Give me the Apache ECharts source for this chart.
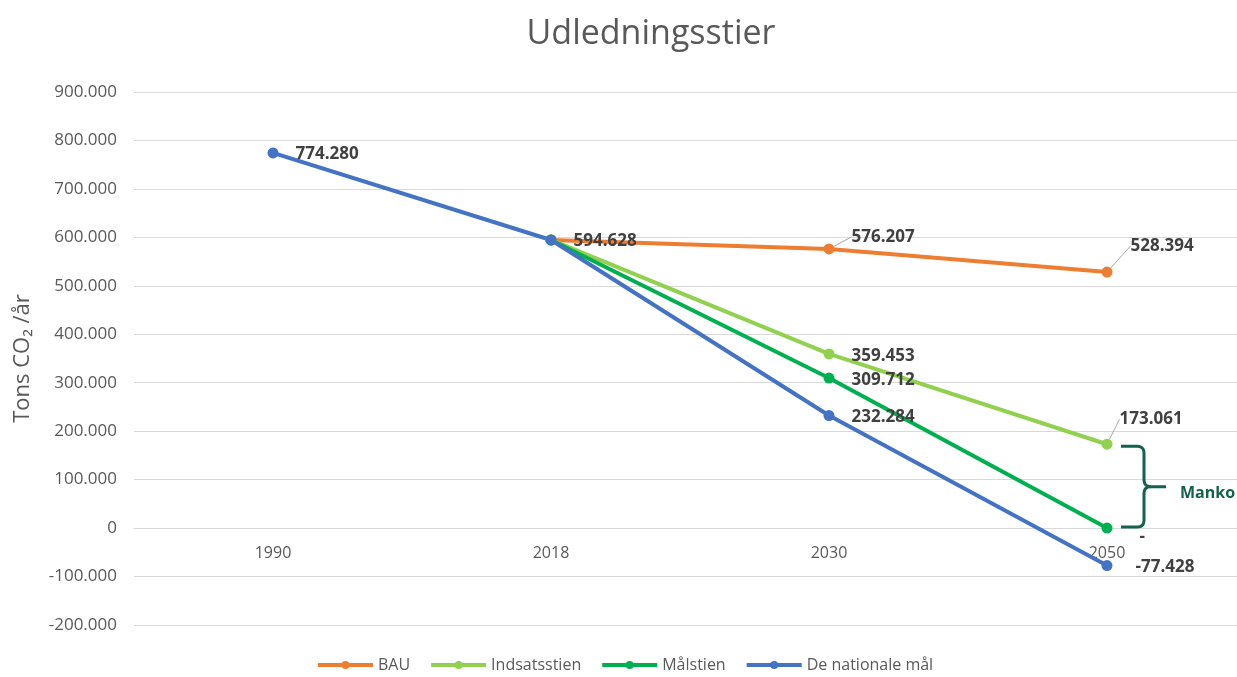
<!DOCTYPE html>
<html>
<head>
<meta charset="utf-8">
<script src="https://cdn.jsdelivr.net/npm/echarts@6/dist/echarts.min.js"></script>
<style>
  html, body { margin: 0; padding: 0; background: #fff; }
  #chart { width: 1237px; height: 677px; }
</style>
</head>
<body>
<div id="chart"></div>
<script>
const years = ["1990", "2018", "2030", "2050"];
const bau = [null, 594628, 576207, 528394];
const indsats = [null, 594628, 359453, 173061];
const maal = [null, 594628, 309712, 0];
const national = [774280, 594628, 232284, -77428];

const font = "Open Sans";
const labelColor = "#404040";
const mankoColor = "#15614F";

function fmt(v) {
  if (v === 0) return "0";
  const s = Math.abs(v).toString().replace(/\B(?=(\d{3})+(?!\d))/g, ".");
  return (v < 0 ? "-" : "") + s;
}

function dataLabel(v) {
  if (v === 0) return "-";
  return fmt(v);
}

const chart = echarts.init(window.document.getElementById("chart"));

function lineSeries(name, data, color, labelPos) {
  return {
    name: name,
    type: "line",
    data: data.map((v, i) => {
      const lp = labelPos[i];
      return {
        value: v,
        label: lp ? Object.assign({ show: true, position: "right" }, lp) : { show: false },
        labelLine: { show: !!(lp && lp.line) },
      };
    }),
    symbol: "circle",
    symbolSize: 11,
    lineStyle: { color: color, width: 4 },
    itemStyle: { color: color },
    label: {
      fontFamily: font,
      fontWeight: "bold",
      fontSize: 17,
      color: labelColor,
      formatter: (p) => dataLabel(p.value),
    },
    labelLine: { lineStyle: { color: "#A6A6A6", width: 1 } },
    emphasis: { disabled: true },
    z: 3,
  };
}

chart.setOption({
  animation: false,
  textStyle: { fontFamily: font },
  title: {
    text: "Udledningsstier",
    left: 646,
    textAlign: "center",
    top: 12,
    textStyle: { fontFamily: font, fontSize: 34, fontWeight: "normal", color: "#595959" },
  },
  legend: {
    bottom: -1,
    left: 311,
    itemWidth: 55,
    itemHeight: 10,
    itemGap: 19,
    lineStyle: { width: 4 },
    textStyle: { fontFamily: font, fontSize: 16, color: "#595959" },
    data: ["BAU", "Indsatsstien", "Målstien", "De nationale mål"],
  },
  grid: { left: 134, width: 1112, top: 92, bottom: 52, outerBoundsMode: "none", containLabel: false },
  xAxis: {
    type: "category",
    data: years,
    offset: -97,
    axisLine: { onZero: false, lineStyle: { color: "#D9D9D9" } },
    axisTick: { show: false },
    axisLabel: { fontFamily: font, fontSize: 16, color: "#595959", margin: 17 },
  },
  yAxis: {
    type: "value",
    min: -200000,
    max: 900000,
    interval: 100000,
    name: "Tons CO₂ /år",
    nameLocation: "middle",
    nameGap: 100,
    nameTextStyle: { fontFamily: font, fontSize: 22, color: "#595959" },
    axisLine: { show: false },
    axisTick: { show: false },
    splitLine: { lineStyle: { color: "#D9D9D9" } },
    axisLabel: {
      fontFamily: font,
      fontSize: 17,
      color: "#595959",
      margin: 17,
      formatter: fmt,
    },
  },
  series: [
    lineSeries("BAU", bau, "#ED7D31", [
      null,
      null,
      { offset: [12, -12], line: true },
      { offset: [13, -26], line: true },
    ]),
    lineSeries("Indsatsstien", indsats, "#92D050", [
      null,
      null,
      { offset: [12, 2] },
      { offset: [2, -25], line: true },
    ]),
    lineSeries("Målstien", maal, "#00B050", [
      null,
      null,
      { offset: [12, 2] },
      { offset: [22, 9] },
    ]),
    lineSeries("De nationale mål", national, "#4472C4", [
      { offset: [12, 1] },
      { offset: [12, 1] },
      { offset: [12, 2] },
      { offset: [18, 2] },
    ]),
  ],
});

// Manko bracket between Indsatsstien and Målstien in 2050
function quad(p0, c, p1, n) {
  const pts = [];
  for (let i = 0; i <= n; i++) {
    const t = i / n;
    const a = (1 - t) * (1 - t), b = 2 * (1 - t) * t, d = t * t;
    pts.push([a * p0[0] + b * c[0] + d * p1[0], a * p0[1] + b * c[1] + d * p1[1]]);
  }
  return pts;
}

function drawManko() {
  const top = chart.convertToPixel({ seriesIndex: 1 }, [3, indsats[3]]);
  const bot = chart.convertToPixel({ seriesIndex: 2 }, [3, maal[3]]);
  const x0 = top[0] + 14;
  const y0 = top[1] + 2;
  const y1 = bot[1] - 1;
  const xm = x0 + 23;
  const ym = (y0 + y1) / 2;
  const r = 7;
  const upper = [[x0, y0], [xm - r, y0]]
    .concat(quad([xm - r, y0], [xm, y0], [xm, y0 + r], 6))
    .concat([[xm, ym - r]])
    .concat(quad([xm, ym - r], [xm, ym], [xm + r, ym], 6))
    .concat([[xm + 22, ym]]);
  const lower = [[xm + r, ym]]
    .concat(quad([xm + r, ym], [xm, ym], [xm, ym + r], 6))
    .concat([[xm, y1 - r]])
    .concat(quad([xm, y1 - r], [xm, y1], [xm - r, y1], 6))
    .concat([[x0, y1]]);
  chart.setOption({
    graphic: [
      {
        type: "polyline",
        shape: { points: upper },
        style: { fill: null, stroke: mankoColor, lineWidth: 3 },
        z: 10,
      },
      {
        type: "polyline",
        shape: { points: lower },
        style: { fill: null, stroke: mankoColor, lineWidth: 3 },
        z: 10,
      },
      {
        type: "text",
        x: xm + 36,
        y: ym + 7,
        style: {
          text: "Manko",
          fill: mankoColor,
          font: "bold 16px 'Open Sans'",
          verticalAlign: "middle",
        },
        z: 10,
      },
    ],
  });
}

drawManko();
</script>
</body>
</html>
